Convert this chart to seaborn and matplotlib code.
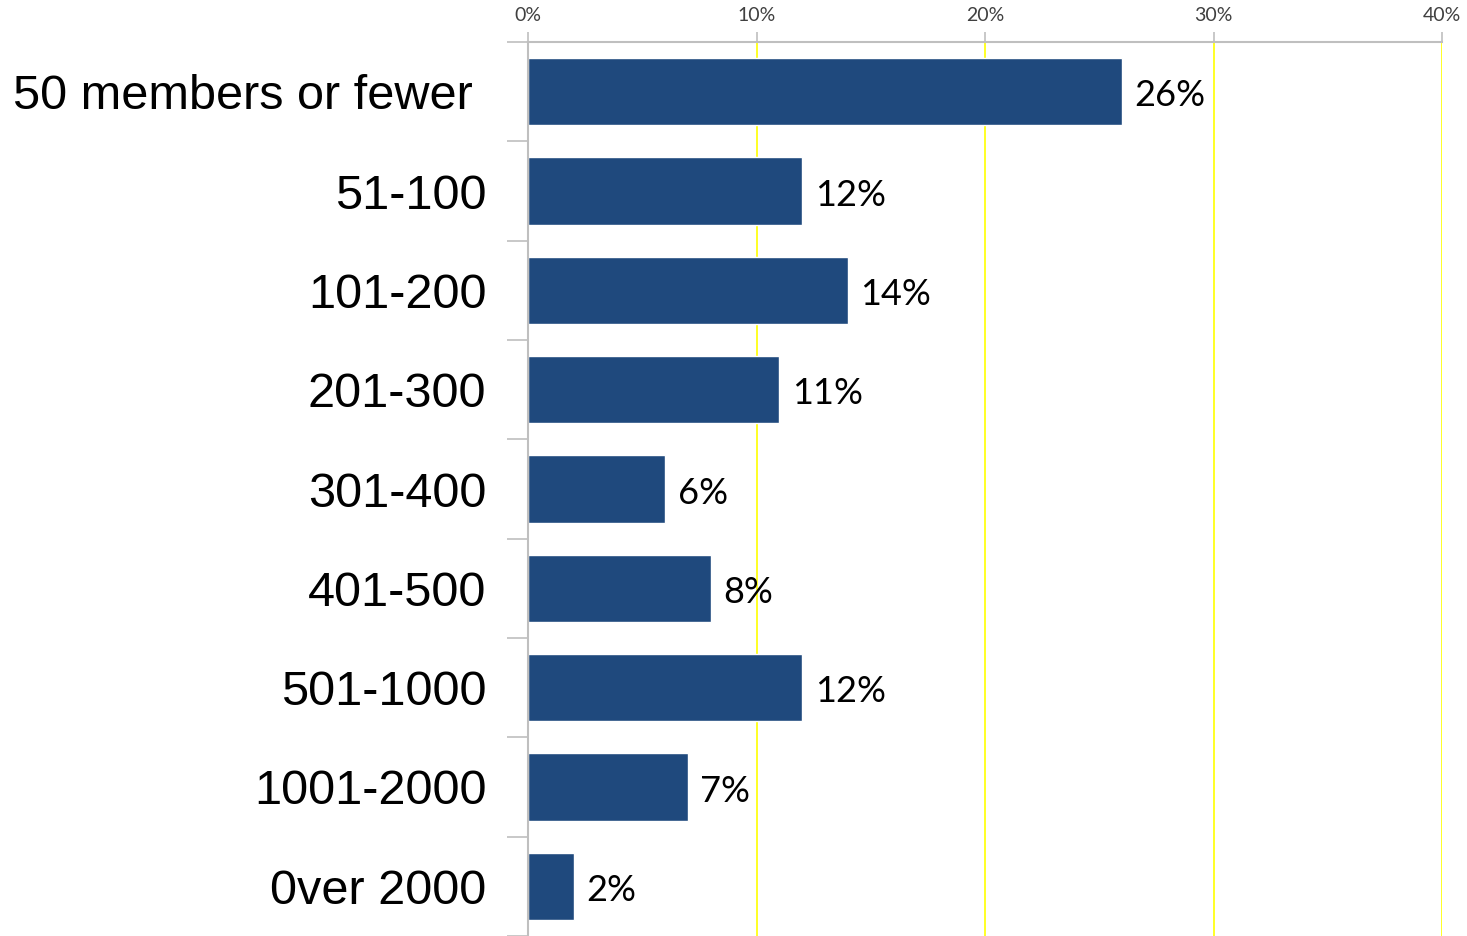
import matplotlib
matplotlib.use("Agg")
import matplotlib.pyplot as plt
import seaborn as sns
import pandas as pd
import numpy as np
from matplotlib.ticker import FixedLocator, PercentFormatter

categories = ["50 members or fewer ", "51-100", "101-200", "201-300", "301-400",
              "401-500", "501-1000", "1001-2000", "0ver 2000"]
values = [26, 12, 14, 11, 6, 8, 12, 7, 2]
x_ticks = [0, 10, 20, 30, 40]

sns.set_style("white")
df = pd.DataFrame({"category": categories, "value": values})

fig = plt.figure(figsize=(14.67, 9.36), dpi=100)
ax = fig.add_axes([528 / 1467, 0.0, (1442 - 528) / 1467, 1 - 42 / 936])

sns.barplot(data=df, y="category", x="value", orient="h", color="#1F497D",
            width=0.675, saturation=1, ax=ax)

ax.set_xlim(0, 40)
ax.set_ylim(len(categories) - 0.5, -0.5)
ax.xaxis.tick_top()
ax.set_xticks(x_ticks)
ax.xaxis.set_major_formatter(PercentFormatter(decimals=0))
ax.tick_params(axis="x", which="major", length=7, width=1.2, color="#BFBFBF",
               pad=6, labelsize=14, labelcolor="#404040", direction="out")
for lab in ax.get_xticklabels():
    lab.set_family("Lato")

ax.set_xlabel("")
ax.set_ylabel("")
ax.tick_params(axis="y", which="major", length=0, pad=30, labelsize=35)
for lab in ax.get_yticklabels():
    lab.set_family(["Liberation Sans", "DejaVu Sans"])
    lab.set_color("black")
ax.yaxis.set_minor_locator(FixedLocator(np.arange(-0.5, len(categories), 1.0)))
ax.tick_params(axis="y", which="minor", length=15, width=1.2, color="#BFBFBF",
               direction="out", left=True)

for t in x_ticks[1:]:
    ax.axvline(t, color="#FFFF00", lw=1.2, zorder=0)

for s in ["right", "bottom"]:
    ax.spines[s].set_visible(False)
for s in ["top", "left"]:
    ax.spines[s].set_color("#BFBFBF")
    ax.spines[s].set_linewidth(1.5)

for i, v in enumerate(values):
    ax.annotate(f"{v}%", xy=(v, i), xytext=(9, -3), textcoords="offset points",
                va="center", ha="left", fontsize=26, family="Lato", color="black")

fig.savefig("out.png", dpi=100)
